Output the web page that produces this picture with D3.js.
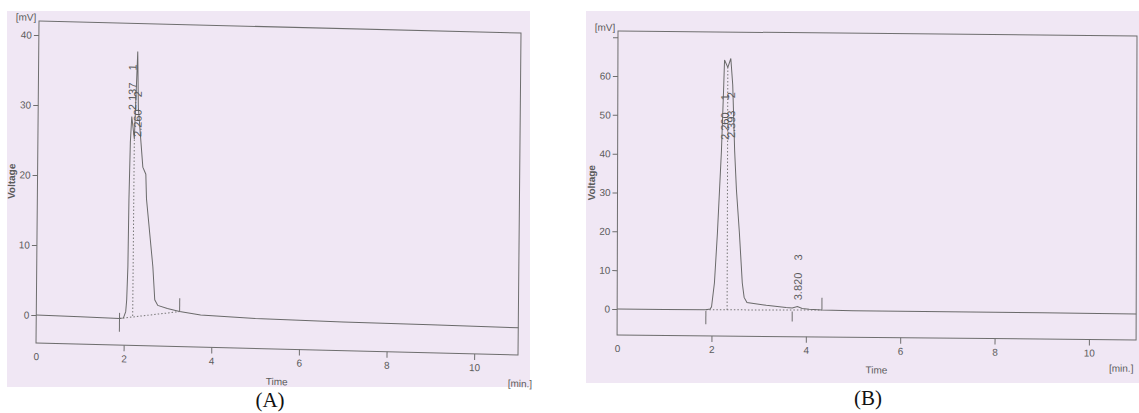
<!DOCTYPE html>
<html>
<head>
<meta charset="utf-8">
<script src="https://cdn.jsdelivr.net/npm/d3@7"></script>
<style>
body { margin: 0; background: #fff; }
svg { display: block; }
text { font-family: "Liberation Sans", Arial, sans-serif; fill: #5b5b5b; }
</style>
</head>
<body>
<div class="chart"></div>
<script>
// chromatogram (A)
var timeA = [0, 1.0, 1.9, 1.99, 2.04, 2.06, 2.08, 2.09, 2.11, 2.137, 2.20, 2.26, 2.285, 2.40, 2.47, 2.49, 2.65, 2.70, 2.77, 2.99, 3.27, 3.75, 5.0, 7.0, 9.0, 11.0];
var voltA = [0, -0.1, -0.2, -0.1, 0.8, 2.5, 7.2, 16.8, 25, 28.7, 25.5, 38, 30, 21.5, 20.5, 17, 7.3, 2.6, 1.8, 1.4, 1.0, 0.6, 0.3, 0.1, 0, -0.1];
var peaksA = [`2.137`, `2.260`];
var peakNoA = [`1`, `2`];
var yTicksA = [0, 10, 20, 30, 40];

// chromatogram (B)
var timeB = [0, 1.0, 1.88, 1.97, 2.0, 2.06, 2.12, 2.20, 2.245, 2.26, 2.33, 2.393, 2.435, 2.48, 2.52, 2.585, 2.65, 2.69, 2.75, 3.16, 3.58, 3.71, 3.82, 3.92, 4.07, 4.34, 5.0, 7.0, 9.0, 11.0];
var voltB = [0, 0, 0, 0.2, 0.8, 7, 19.8, 41, 58, 64.4, 62.5, 64.8, 58, 41, 31, 20, 7, 3.3, 2.0, 1.3, 0.8, 0.7, 1.1, 0.6, 0.4, 0.25, 0.15, 0.1, 0.05, 0];
var peaksB = [`2.260`, `2.393`, `3.820`];
var peakNoB = [`1`, `2`, `3`];
var yTicksB = [0, 10, 20, 30, 40, 50, 60, 70];

var xTicks = [0, 2, 4, 6, 8, 10];

var svg = d3.select(`.chart`)
    .append(`svg`)
    .attr(`width`, 1139)
    .attr(`height`, 413);

function panel(p) {
    svg.append(`rect`)
        .attr(`x`, p.paper[0]).attr(`y`, p.paper[1])
        .attr(`width`, p.paper[2]).attr(`height`, p.paper[3])
        .attr(`fill`, `#f0e7f4`);

    // the scan is slightly tilted
    var g = svg.append(`g`)
        .attr(`transform`, `translate(${p.left},${p.top}) matrix(1,${p.b},${p.c},1,0,0)`);

    var x = d3.scaleLinear().domain([0, 11]).range([0, p.w]);
    var y = d3.scaleLinear().domain(p.yDomain).range([p.h, 0]);

    g.append(`rect`)
        .attr(`width`, p.w).attr(`height`, p.h)
        .attr(`fill`, `none`).attr(`stroke`, `#6e6e6e`);

    var yAxis = g.append(`g`)
        .call(d3.axisLeft(y).tickValues(p.yTicks).tickSize(5).tickPadding(2)
            .tickFormat(d => p.hideTick.includes(d) ? `` : d));
    yAxis.select(`.domain`).remove();

    var xAxis = g.append(`g`)
        .attr(`transform`, `translate(0,${p.h})`)
        .call(d3.axisBottom(x).tickValues(xTicks).tickSize(6).tickPadding(4));
    xAxis.select(`.domain`).remove();
    xAxis.selectAll(`.tick`).filter(d => d === 0).select(`line`).remove();

    [yAxis, xAxis].forEach(a => {
        a.selectAll(`line`).attr(`stroke`, `#6e6e6e`);
        a.selectAll(`text`).attr(`fill`, `#5b5b5b`).style(`font-size`, `10px`);
    });

    g.append(`text`)
        .attr(`transform`, `translate(-26,${p.h / 2}) rotate(-90)`)
        .attr(`text-anchor`, `middle`)
        .attr(`dy`, `0.35em`)
        .style(`font-size`, `10px`).style(`font-weight`, `bold`)
        .text(`Voltage`);
    g.append(`text`)
        .attr(`x`, -13).attr(`y`, 0)
        .attr(`text-anchor`, `middle`)
        .style(`font-size`, `10px`)
        .text(`[mV]`);
    g.append(`text`)
        .attr(`x`, p.w / 2).attr(`y`, p.h + 36)
        .attr(`text-anchor`, `middle`)
        .style(`font-size`, `10px`)
        .text(`Time`);
    g.append(`text`)
        .attr(`x`, p.w - p.unitShift).attr(`y`, p.h + 32)
        .style(`font-size`, `10px`)
        .text(`[min.]`);

    // integration baseline, drop line and markers
    var dotted = d3.line().x(d => x(d[0])).y(d => y(d[1]));
    g.append(`path`)
        .attr(`d`, dotted(p.base))
        .attr(`fill`, `none`).attr(`stroke`, `#777`)
        .attr(`stroke-dasharray`, `1.5,2`);
    g.append(`path`)
        .attr(`d`, dotted(p.drop))
        .attr(`fill`, `none`).attr(`stroke`, `#777`)
        .attr(`stroke-dasharray`, `1.5,2`);
    g.selectAll(`.mark`)
        .data(p.marks)
        .enter()
        .append(`line`)
        .attr(`x1`, d => x(d[0])).attr(`x2`, d => x(d[0]))
        .attr(`y1`, d => y(d[1])).attr(`y2`, d => y(d[2]))
        .attr(`stroke`, `#6e6e6e`);

    var line = d3.line()
        .x((d, i) => x(p.time[i]))
        .y(d => y(d));
    g.append(`path`)
        .attr(`d`, line(p.volt))
        .attr(`fill`, `none`)
        .attr(`stroke`, `#6a6a6a`)
        .attr(`stroke-width`, 1);

    g.selectAll(`.peak`)
        .data(p.peaks)
        .enter()
        .append(`text`)
        .attr(`transform`, (d, i) => `translate(${x(+d) + 0.5},${y(p.labelAt[i])}) rotate(-90)`)
        .attr(`dy`, `0.35em`)
        .style(`font-size`, `11px`)
        .style(`white-space`, `pre`)
        .text((d, i) => d + `\u00a0\u00a0\u00a0\u00a0` + p.peakNo[i]);

    svg.append(`text`)
        .attr(`x`, p.tag[0]).attr(`y`, p.tag[1])
        .attr(`text-anchor`, `middle`)
        .style(`font-family`, `"Liberation Serif", "Times New Roman", serif`)
        .style(`font-size`, `21px`)
        .style(`fill`, `#111`)
        .text(p.name);
}

panel({
    name: `(A)`, tag: [270, 407],
    paper: [7, 11, 523, 376],
    left: 39, top: 21, w: 482, h: 322, b: 0.025, c: -0.0093, unitShift: 10,
    yDomain: [-4, 42], yTicks: yTicksA, hideTick: [],
    time: timeA, volt: voltA,
    peaks: peaksA, peakNo: peakNoA, labelAt: [29.6, 25.8],
    base: [[1.9, -0.2], [3.27, 1.0]],
    drop: [[2.20, 0.2], [2.20, 25.5]],
    marks: [[1.9, 0.6, -2.1], [3.27, 1.0, 2.9]]
});

panel({
    name: `(B)`, tag: [868, 405],
    paper: [586, 11, 553, 372],
    left: 618, top: 31, w: 519, h: 304, b: 0.0095, c: -0.003, unitShift: 27,
    yDomain: [-6.7, 71.6], yTicks: yTicksB, hideTick: [70],
    time: timeB, volt: voltB,
    peaks: peaksB, peakNo: peakNoB, labelAt: [43.8, 44.3, 2.7],
    base: [[1.88, 0], [4.34, 0.25]],
    drop: [[2.33, 0], [2.33, 62.5]],
    marks: [[1.88, -0.3, -3.7], [3.71, -0.2, -2.8], [4.34, 0.3, 3.4]]
});
</script>
</body>
</html>
